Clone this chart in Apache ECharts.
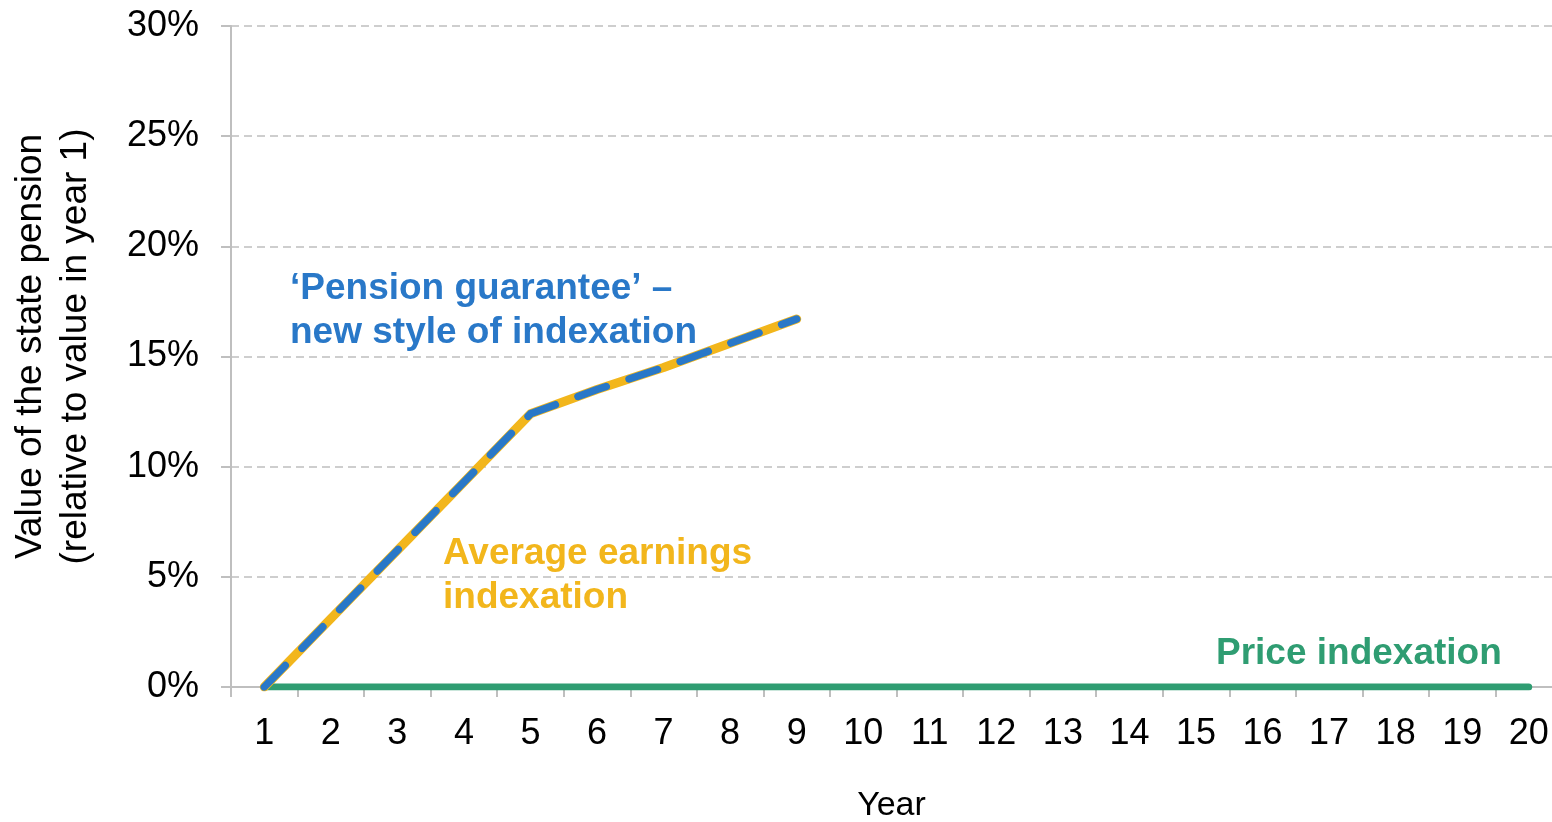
<!DOCTYPE html>
<html>
<head>
<meta charset="utf-8">
<title>State pension indexation</title>
<script src="https://cdn.jsdelivr.net/npm/echarts@6/dist/echarts.min.js"></script>
<style>
  html, body { margin: 0; padding: 0; background: #fff; }
  #chart { width: 1552px; height: 822px; }
</style>
</head>
<body>
<div id="chart"></div>
<script>
// years on the x axis
var years = ['1', '2', '3', '4', '5', '6', '7', '8', '9', '10',
  '11', '12', '13', '14', '15', '16', '17', '18', '19', '20'];
// % rise in pension value relative to year 1
var earningsIdx = [0, 3.1, 6.2, 9.3, 12.4, 13.5, 14.5, 15.6, 16.7];
var guaranteeIdx = [0, 3.1, 6.2, 9.3, 12.4, 13.5, 14.5, 15.6, 16.7];
var priceIdx = [0, 0, 0, 0, 0, 0, 0, 0, 0, 0, 0, 0, 0, 0, 0, 0, 0, 0, 0, 0];

var FONT = '"Liberation Sans", Arial, Helvetica, sans-serif';
var ORANGE = '#f2b61c';
var BLUE = '#2978c8';
var GREEN = '#2f9d72';
var GREY = '#bfbfbf';

var chart = echarts.init(document.getElementById('chart'));

chart.setOption({
  animation: false,
  textStyle: { fontFamily: FONT },
  // plot runs a little past the right edge, as in the source image
  grid: { left: 231, right: -10, top: 26, bottom: 135, outerBoundsMode: 'none' },
  xAxis: {
    type: 'category',
    data: years,
    boundaryGap: true,
    name: 'Year',
    nameLocation: 'middle',
    nameGap: 102,
    nameTextStyle: { fontSize: 34, color: '#000', fontFamily: FONT, padding: [0, 10, 0, 0] },
    axisLine: { lineStyle: { color: GREY, width: 2 } },
    axisTick: { show: true, length: 10, lineStyle: { color: GREY, width: 2 } },
    axisLabel: { fontSize: 36, color: '#000', margin: 29, fontFamily: FONT, interval: 0 },
    splitLine: { show: false }
  },
  yAxis: {
    type: 'value',
    min: 0,
    max: 30,
    interval: 5,
    name: 'Value of the state pension\n(relative to value in year 1)',
    nameLocation: 'middle',
    nameRotate: 90,
    nameGap: 133,
    nameTextStyle: { fontSize: 37, lineHeight: 45, color: '#000', fontFamily: FONT, padding: [0, 0, 0, 20] },
    axisLine: { show: true, lineStyle: { color: GREY, width: 2 } },
    axisTick: { show: true, length: 10, lineStyle: { color: GREY, width: 2 } },
    axisLabel: { fontSize: 36, color: '#000', margin: 32, formatter: '{value}%', fontFamily: FONT },
    splitLine: { show: true, lineStyle: { color: GREY, width: 1.5, type: [8, 5] } }
  },
  series: [
    {
      name: 'Price indexation',
      type: 'line',
      data: priceIdx,
      symbol: 'none',
      lineStyle: { color: GREEN, width: 7, cap: 'round' },
      z: 3
    },
    {
      name: 'Average earnings indexation',
      type: 'line',
      data: earningsIdx,
      symbol: 'none',
      lineStyle: { color: ORANGE, width: 9, cap: 'round', join: 'round' },
      z: 4
    },
    {
      name: 'Pension guarantee',
      type: 'line',
      data: guaranteeIdx,
      symbol: 'none',
      lineStyle: { color: BLUE, width: 7.5, type: [30, 24], cap: 'round', join: 'round' },
      z: 5
    }
  ],
  graphic: [
    {
      type: 'text', left: 290, top: 267, z: 10,
      style: {
        text: '\u2018Pension guarantee\u2019 \u2013\nnew style of indexation',
        fill: BLUE, font: 'bold 37px ' + FONT, lineHeight: 44
      }
    },
    {
      type: 'text', left: 443, top: 532, z: 10,
      style: {
        text: 'Average earnings\nindexation',
        fill: ORANGE, font: 'bold 37px ' + FONT, lineHeight: 44
      }
    },
    {
      type: 'text', left: 1216, top: 632, z: 10,
      style: {
        text: 'Price indexation',
        fill: GREEN, font: 'bold 37px ' + FONT, lineHeight: 44
      }
    }
  ]
});
</script>
</body>
</html>
